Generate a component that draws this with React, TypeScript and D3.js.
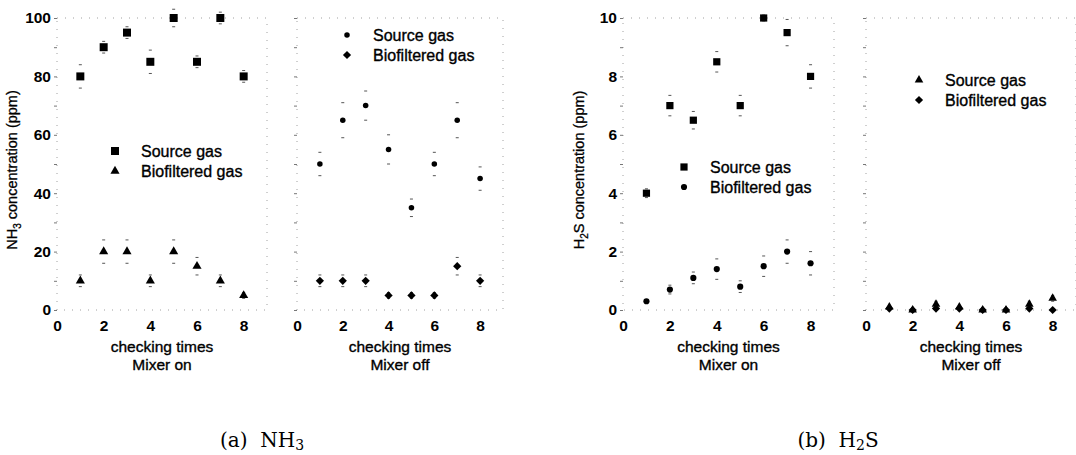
import React, { useEffect, useRef } from 'react';
import * as d3 from 'd3';

// checking times (x) and axis ticks
const times = [1, 2, 3, 4, 5, 6, 7, 8];
const xTicks = [0, 2, 4, 6, 8];

// NH3 concentration (ppm), mixer on
const nh3OnSource = [80, 90, 95, 85, 100, 85, 100, 80];
const nh3OnSourceErr = [4, 2, 2, 4, 3, 2, 2, 2];
const nh3OnBio = [10, 20, 20, 10, 20, 15, 10, 5];
const nh3OnBioErr = [2, 4, 4, 2, 4, 3, 2, 1];
// NH3 concentration (ppm), mixer off
const nh3OffSource = [50, 65, 70, 55, 35, 50, 65, 45];
const nh3OffSourceErr = [4, 6, 5, 5, 3, 4, 6, 4];
const nh3OffBio = [10, 10, 10, 5, 5, 5, 15, 10];
const nh3OffBioErr = [2, 2, 2, 1, 1, 1, 3, 2];

// H2S concentration (ppm), mixer on
const h2sOnSource = [4.0, 7.0, 6.5, 8.5, 7.0, 10.0, 9.5, 8.0];
const h2sOnSourceErr = [0.15, 0.35, 0.3, 0.35, 0.35, 0.1, 0.45, 0.4];
const h2sOnBio = [0.3, 0.7, 1.1, 1.4, 0.8, 1.5, 2.0, 1.6];
const h2sOnBioErr = [0.05, 0.15, 0.2, 0.35, 0.2, 0.35, 0.4, 0.4];
// H2S concentration (ppm), mixer off
const h2sOffSource = [0.1, 0.0, 0.2, 0.1, 0.0, 0.0, 0.2, 0.4];
const h2sOffSourceErr = [0.05, 0, 0.1, 0.05, 0, 0, 0.1, 0.1];
const h2sOffBio = [0.05, 0.0, 0.05, 0.05, 0.0, 0.0, 0.05, 0.0];
const h2sOffBioErr = [0, 0, 0, 0, 0, 0, 0, 0];

const legendNames = ['Source gas', 'Biofiltered gas'];

const FONT = '"Liberation Sans", Arial, sans-serif';

type Series = { values: number[]; errs: number[]; symbol: d3.SymbolType; size: number; rot?: number };
type Subplot = {
  left: number;
  right: number;
  yMax: number;
  showY: boolean;
  mixer: string;
  series: Series[];
  legend: { dx: number; y: number };
};

const subplots: Subplot[] = [
  {
    left: 57, right: 267, yMax: 100, showY: true, mixer: 'Mixer on',
    series: [
      { values: nh3OnSource, errs: nh3OnSourceErr, symbol: d3.symbolSquare, size: 64 },
      { values: nh3OnBio, errs: nh3OnBioErr, symbol: d3.symbolTriangle, size: 36 },
    ],
    legend: { dx: 58, y: 151 },
  },
  {
    left: 297, right: 503, yMax: 100, showY: false, mixer: 'Mixer off',
    series: [
      { values: nh3OffSource, errs: nh3OffSourceErr, symbol: d3.symbolCircle, size: 24 },
      { values: nh3OffBio, errs: nh3OffBioErr, symbol: d3.symbolSquare, size: 34, rot: 45 },
    ],
    legend: { dx: 50, y: 35 },
  },
  {
    left: 623, right: 834, yMax: 10, showY: true, mixer: 'Mixer on',
    series: [
      { values: h2sOnSource, errs: h2sOnSourceErr, symbol: d3.symbolSquare, size: 52 },
      { values: h2sOnBio, errs: h2sOnBioErr, symbol: d3.symbolCircle, size: 30 },
    ],
    legend: { dx: 61, y: 167 },
  },
  {
    left: 866, right: 1076, yMax: 10, showY: false, mixer: 'Mixer off',
    series: [
      { values: h2sOffSource, errs: h2sOffSourceErr, symbol: d3.symbolTriangle, size: 32 },
      { values: h2sOffBio, errs: h2sOffBioErr, symbol: d3.symbolSquare, size: 34, rot: 45 },
    ],
    legend: { dx: 53, y: 80 },
  },
];

function drawSubplot(svg: d3.Selection<SVGSVGElement, unknown, null, undefined>, p: Subplot) {
  const x = d3.scaleLinear().domain([0, 9]).range([p.left, p.right]);
  const y = d3.scaleLinear().domain([0, p.yMax]).range([310, 18]);
  const g = svg.append('g');

  // faint dotted frame, like the scanned original
  g.append('rect')
    .attr('x', x(0))
    .attr('y', y(p.yMax))
    .attr('width', x(9) - x(0))
    .attr('height', y(0) - y(p.yMax))
    .attr('fill', 'none')
    .attr('stroke', '#a0a0a0')
    .attr('stroke-width', 1)
    .attr('stroke-dasharray', '1 7');

  // y axis: major ticks every 2 steps, minor in between
  const yTicks = d3.range(0, 11).map(i => (i * p.yMax) / 10);
  const yAxis = g.append('g')
    .attr('transform', `translate(${x(0)},0)`)
    .call(d3.axisLeft(y)
      .tickValues(yTicks)
      .tickSize(3)
      .tickPadding(3)
      .tickFormat((d, i) => (p.showY && i % 2 === 0 ? String(d) : '')));
  yAxis.select('.domain').remove();
  yAxis.selectAll('.tick line').attr('stroke', '#777');
  yAxis.selectAll('text')
    .attr('font-family', FONT)
    .attr('font-size', 15.5)
    .attr('font-weight', 'bold')
    .attr('fill', '#000');

  // x axis labels
  const xAxis = g.append('g')
    .attr('transform', `translate(0,${y(0)})`)
    .call(d3.axisBottom(x).tickValues(xTicks).tickSize(0).tickPadding(10));
  xAxis.select('.domain').remove();
  xAxis.selectAll('text')
    .attr('font-family', FONT)
    .attr('font-size', 15.5)
    .attr('font-weight', 'bold')
    .attr('fill', '#000');

  const cx = (x(0) + x(9)) / 2;
  [['checking times', 352], [p.mixer, 370]].forEach(([t, ty]) => {
    g.append('text')
      .attr('x', cx).attr('y', ty as number)
      .attr('text-anchor', 'middle')
      .attr('font-family', FONT).attr('font-size', 15.5)
      .attr('stroke', '#000').attr('stroke-width', 0.35)
      .text(t as string);
  });

  // error-bar caps and markers
  p.series.forEach(s => {
    const sym = d3.symbol().type(s.symbol).size(s.size);
    s.values.forEach((v, i) => {
      const e = s.errs[i];
      if (e > 0) {
        [v + e, v - e].forEach(c => {
          g.append('line')
            .attr('x1', x(times[i]) - 1.5).attr('x2', x(times[i]) + 1.5)
            .attr('y1', y(c)).attr('y2', y(c))
            .attr('stroke', '#555').attr('stroke-width', 1);
        });
      }
      g.append('path')
        .attr('d', sym()!)
        .attr('transform', `translate(${x(times[i])},${y(v)}) rotate(${s.rot ?? 0})`)
        .attr('fill', '#000');
    });
  });

  // legend
  const lx = x(0) + p.legend.dx;
  p.series.forEach((s, i) => {
    const ly = p.legend.y + i * 20;
    g.append('path')
      .attr('d', d3.symbol().type(s.symbol).size(s.size)()!)
      .attr('transform', `translate(${lx},${ly}) rotate(${s.rot ?? 0})`)
      .attr('fill', '#000');
    g.append('text')
      .attr('x', lx + 26).attr('y', ly + 5.5)
      .attr('font-family', FONT).attr('font-size', 16)
      .attr('stroke', '#000').attr('stroke-width', 0.35)
      .text(legendNames[i]);
  });
}

export default function App() {
  const ref = useRef<SVGSVGElement>(null);

  useEffect(() => {
    const svg = d3.select(ref.current!);
    svg.selectAll('*').remove();

    subplots.forEach(p => drawSubplot(svg, p));

    // y axis titles with subscripts
    const yTitles = [
      { x: 17, a: 'NH', sub: '3', b: ' concentration (ppm)' },
      { x: 584, a: 'H', sub: '2', b: 'S concentration (ppm)' },
    ];
    yTitles.forEach(t => {
      const txt = svg.append('text')
        .attr('transform', `translate(${t.x},170) rotate(-90)`)
        .attr('text-anchor', 'middle')
        .attr('font-family', FONT)
        .attr('font-size', 14.5)
        .attr('stroke', '#000').attr('stroke-width', 0.3);
      txt.append('tspan').text(t.a);
      txt.append('tspan').attr('font-size', 10).attr('dy', 4).text(t.sub);
      txt.append('tspan').attr('dy', -4).text(t.b);
    });

    // panel captions
    const captions = [
      { x: 262, a: '(a)\u00a0\u00a0NH', sub: '3', b: '' },
      { x: 838, a: '(b)\u00a0\u00a0H', sub: '2', b: 'S' },
    ];
    captions.forEach(c => {
      const txt = svg.append('text')
        .attr('x', c.x).attr('y', 447)
        .attr('text-anchor', 'middle')
        .attr('font-family', '"DejaVu Serif", serif')
        .attr('font-size', 20);
      txt.append('tspan').text(c.a);
      txt.append('tspan').attr('font-size', 14).attr('dy', 3).text(c.sub);
      if (c.b) txt.append('tspan').attr('dy', -3).text(c.b);
    });
  }, []);

  return (
    <div style={{ position: 'absolute', left: 0, top: 0 }}>
      <svg ref={ref} width={1076} height={455} style={{ display: 'block', background: '#fff' }} />
    </div>
  );
}
